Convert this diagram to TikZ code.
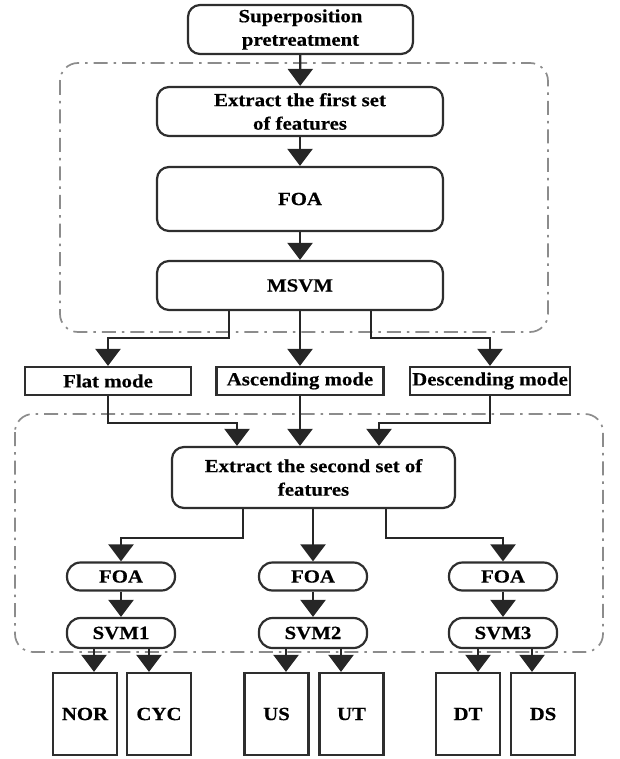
\documentclass[tikz,border=0pt]{standalone}
\usepackage{fontspec}
\setmainfont{Liberation Serif}[FakeStretch=1.12,BoldFeatures={FakeBold=0.4}]
\usetikzlibrary{arrows.meta}
\begin{document}
\begin{tikzpicture}[x=1pt,y=-1pt,
  box/.style={draw=black!82,line width=2.2pt,fill=white,rounded corners=12pt,inner sep=0pt,align=center,
    font=\bfseries\fontsize{18.6}{23.5}\selectfont},
  pill/.style={box,rounded corners=13.5pt,minimum width=108pt,minimum height=28pt},
  modebox/.style={box,rounded corners=0pt,minimum height=28pt},
  resbox/.style={box,rounded corners=0pt,minimum width=64pt,minimum height=82pt},
  arr/.style={draw=black!85,line width=2.2pt,-{Triangle[width=25pt,length=17pt]}},
  dashbox/.style={draw=black!45,line width=1.7pt,dash pattern=on 14pt off 6pt on 2.5pt off 6pt,rounded corners=18pt}
]
\path[use as bounding box] (0,0) rectangle (619,759);

% dash-dot group frames
\draw[dashbox] (60,63) rectangle (548,332);
\draw[dashbox] (15,414) rectangle (603,652);

% upper nodes
\node[box,minimum width=225pt,minimum height=49pt] (sp) at (300.5,29.5) {Superposition\\pretreatment};
\node[box,minimum width=286pt,minimum height=49pt] (ex1) at (300,111.5) {Extract the first set\\of features};
\node[box,minimum width=286pt,minimum height=64pt] (foa) at (300,199) {FOA};
\node[box,minimum width=286pt,minimum height=49pt] (msvm) at (300,285.5) {MSVM};

% modes
\node[modebox,minimum width=166pt] (flat) at (108,381) {Flat mode};
\node[modebox,minimum width=167pt] (asc) at (300,381) {Ascending mode};
\node[modebox,minimum width=160pt] (desc) at (490,381) {Descending mode};

% second set
\node[box,minimum width=283pt,minimum height=61pt] (ex2) at (313.5,477.5) {Extract the second set of\\features};

\node[pill] (foa1) at (121,576.5) {FOA};
\node[pill] (foa2) at (313,576.5) {FOA};
\node[pill] (foa3) at (503,576.5) {FOA};
\node[pill,minimum height=30pt] (svm1) at (121,633) {SVM1};
\node[pill,minimum height=30pt] (svm2) at (313,633) {SVM2};
\node[pill,minimum height=30pt] (svm3) at (503,633) {SVM3};

\node[resbox] (nor) at (85,714) {NOR};
\node[resbox] (cyc) at (159,714) {CYC};
\node[resbox] (us) at (276.5,714) {US};
\node[resbox] (ut) at (351.5,714) {UT};
\node[resbox] (dt) at (468,714) {DT};
\node[resbox] (ds) at (543,714) {DS};

% helper coordinates
\coordinate (m1) at (229,338);
\coordinate (m3) at (371,338);
\coordinate (f1) at (237,423);
\coordinate (d1) at (379,423);
\coordinate (e1) at (243,538);
\coordinate (e3) at (386,538);

% connectors upper
\draw[arr] (sp) -- (ex1);
\draw[arr] (ex1) -- (foa);
\draw[arr] (foa) -- (msvm);
\draw[arr] (msvm.south -| m1) -- (m1) -| (flat.north);
\draw[arr] (msvm.south) -- (asc.north);
\draw[arr] (msvm.south -| m3) -- (m3) -| (desc.north);

% modes to second set
\draw[arr] (flat.south) |- (f1) -- (f1 |- ex2.north);
\draw[arr] (asc.south) -- (asc.south |- ex2.north);
\draw[arr] (desc.south) |- (d1) -- (d1 |- ex2.north);

% second set to FOAs
\draw[arr] (ex2.south -| e1) -- (e1) -| (foa1.north);
\draw[arr] (ex2.south -| foa2.north) -- (foa2.north);
\draw[arr] (ex2.south -| e3) -- (e3) -| (foa3.north);

\draw[arr] (foa1) -- (svm1);
\draw[arr] (foa2) -- (svm2);
\draw[arr] (foa3) -- (svm3);

% SVMs to classes
\draw[arr] ([xshift=-27pt]svm1.south) -- ([xshift=-27pt]svm1.south |- nor.north);
\draw[arr] ([xshift=28pt]svm1.south) -- ([xshift=28pt]svm1.south |- cyc.north);
\draw[arr] ([xshift=-27pt]svm2.south) -- ([xshift=-27pt]svm2.south |- us.north);
\draw[arr] ([xshift=28pt]svm2.south) -- ([xshift=28pt]svm2.south |- ut.north);
\draw[arr] ([xshift=-25pt]svm3.south) -- ([xshift=-25pt]svm3.south |- dt.north);
\draw[arr] ([xshift=29pt]svm3.south) -- ([xshift=29pt]svm3.south |- ds.north);
\end{tikzpicture}
\end{document}
